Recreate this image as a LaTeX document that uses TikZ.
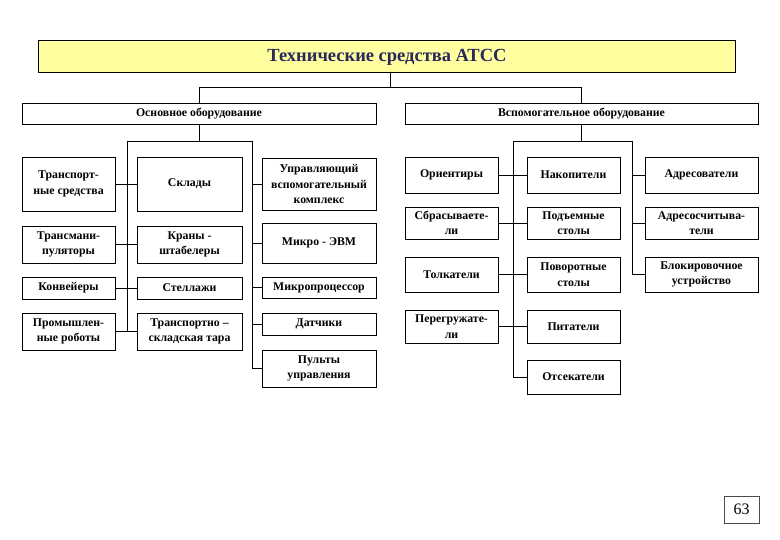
\documentclass[tikz,border=0pt]{standalone}
\usepackage{fontspec}
\setmainfont{Liberation Serif}
\begin{document}
\begin{tikzpicture}[x=1pt,y=-1pt,
  box/.style={draw=black, line width=0.9pt, fill=white, align=center, inner sep=1pt,
    font=\fontsize{11.8}{15.5}\selectfont\bfseries, text=black},
  lc/.style={minimum width=93pt},
  mc/.style={minimum width=105pt},
  rc/.style={minimum width=114pt},
  lc2/.style={minimum width=93pt},
  mc2/.style={minimum width=93pt},
  rc2/.style={minimum width=113pt},
  wire/.style={draw=black, line width=0.9pt}]
\useasboundingbox (0,0) rectangle (780,540);
\fill[white] (0,0) rectangle (780,540);
\definecolor{titlefill}{RGB}{255,255,160}
\definecolor{titletext}{RGB}{40,40,90}
% title
\node[draw=black, line width=0.9pt, fill=titlefill, minimum width=697pt, minimum height=32pt,
  font=\fontsize{18.5}{20}\selectfont\bfseries, text=titletext] (title) at (386.5,56) {};
\node[font=\fontsize{18.5}{20}\selectfont\bfseries, text=titletext, inner sep=0pt] (titletxt) at (387,57.5) {Технические средства АТСС};
% level 2
\node[box, minimum width=354pt, minimum height=21pt] (osn) at (199,113.5) {Основное оборудование};
\node[box, minimum width=353pt, minimum height=21pt] (vsp) at (581.5,113.5) {Вспомогательное оборудование};
% left half, left column
\node[box, lc, minimum height=54pt] (ts) at (68.5,184) {Транспорт-\\ные средства};
\node[box, lc, minimum height=37pt] (tm) at (68.5,244.5) {Трансмани-\\пуляторы};
\node[box, lc, minimum height=22pt] (kv) at (68.5,288) {Конвейеры};
\node[box, lc, minimum height=37pt] (pr) at (68.5,331.5) {Промышлен-\\ные роботы};
% left half, middle column
\node[box, mc, minimum height=54pt] (sk) at (189.5,184) {Склады};
\node[box, mc, minimum height=37pt] (kr) at (189.5,244.5) {Краны -\\штабелеры};
\node[box, mc, minimum height=22pt] (st) at (189.5,288) {Стеллажи};
\node[box, mc, minimum height=37pt] (tt) at (189.5,331.5) {Транспортно –\\складская тара};
% left half, right column
\node[box, rc, minimum height=52pt] (uk) at (319,184) {Управляющий\\вспомогательный\\комплекс};
\node[box, rc, minimum height=40pt] (me) at (319,243) {Микро - ЭВМ};
\node[box, rc, minimum height=21pt] (mp) at (319,287.5) {Микропроцессор};
\node[box, rc, minimum height=22pt] (dt) at (319,324) {Датчики};
\node[box, rc, minimum height=37pt] (pu) at (319,368.5) {Пульты\\управления};
% right half, left column
\node[box, lc2, minimum height=36pt] (or) at (451.5,175) {Ориентиры};
\node[box, lc2, minimum height=32pt] (sb) at (451.5,223) {Сбрасываете-\\ли};
\node[box, lc2, minimum height=35pt] (tk) at (451.5,274.5) {Толкатели};
\node[box, lc2, minimum height=33pt] (pg) at (451.5,326.5) {Перегружате-\\ли};
% right half, middle column
\node[box, mc2, minimum height=36pt] (nk) at (573.5,175) {Накопители};
\node[box, mc2, minimum height=32pt] (pd) at (573.5,223) {Подъемные\\столы};
\node[box, mc2, minimum height=35pt] (pv) at (573.5,274.5) {Поворотные\\столы};
\node[box, mc2, minimum height=33pt] (pt) at (573.5,326.5) {Питатели};
\node[box, mc2, minimum height=34pt] (ot) at (573.5,377) {Отсекатели};
% right half, right column
\node[box, rc2, minimum height=36pt] (ad) at (701.5,175) {Адресователи};
\node[box, rc2, minimum height=32pt] (as) at (701.5,223) {Адресосчитыва-\\тели};
\node[box, rc2, minimum height=35pt] (bl) at (701.5,274.5) {Блокировочное\\устройство};
% page number
\node[draw=black!70, line width=0.6pt, minimum width=35pt, minimum height=27pt,
  font=\fontsize{16}{18}\selectfont] (pn) at (741.5,509.5) {63};
% connectors: top
\coordinate (tj) at (390,87);
\coordinate (tl) at (osn.north |- tj);
\coordinate (tr) at (vsp.north |- tj);
\draw[wire] (title.south -| tj) -- (tj);
\draw[wire] (osn.north) -- (tl) -- (tr) -- (vsp.north);
% left half buses
\coordinate (ob) at (osn.south |- 0,141);
\coordinate (lb1) at (127,141);
\coordinate (lb2) at (252,141);
\draw[wire] (osn.south) -- (ob);
\draw[wire] (lb1) -- (lb2);
\draw[wire] (lb1) -- (lb1 |- pr.east);
\draw[wire] (lb2) -- (lb2 |- pu.west);
\draw[wire] (ts.east) -- (sk.west);
\draw[wire] (tm.east) -- (tm.east -| kr.west);
\draw[wire] (kv.east) -- (st.west);
\draw[wire] (pr.east) -- (pr.east -| tt.west);
\foreach \n in {uk,me,mp,dt,pu} \draw[wire] (lb2 |- \n.west) -- (\n.west);
% right half buses
\coordinate (vb) at (vsp.south |- 0,141);
\coordinate (rb1) at (513,141);
\coordinate (rb2) at (632,141);
\draw[wire] (vsp.south) -- (vb);
\draw[wire] (rb1) -- (rb2);
\draw[wire] (rb1) -- (rb1 |- ot.west);
\draw[wire] (rb2) -- (rb2 |- bl.west);
\draw[wire] (or.east) -- (nk.west);
\draw[wire] (sb.east) -- (pd.west);
\draw[wire] (tk.east) -- (pv.west);
\draw[wire] (pg.east) -- (pt.west);
\draw[wire] (rb1 |- ot.west) -- (ot.west);
\foreach \n in {ad,as,bl} \draw[wire] (rb2 |- \n.west) -- (\n.west);
\end{tikzpicture}
\end{document}
